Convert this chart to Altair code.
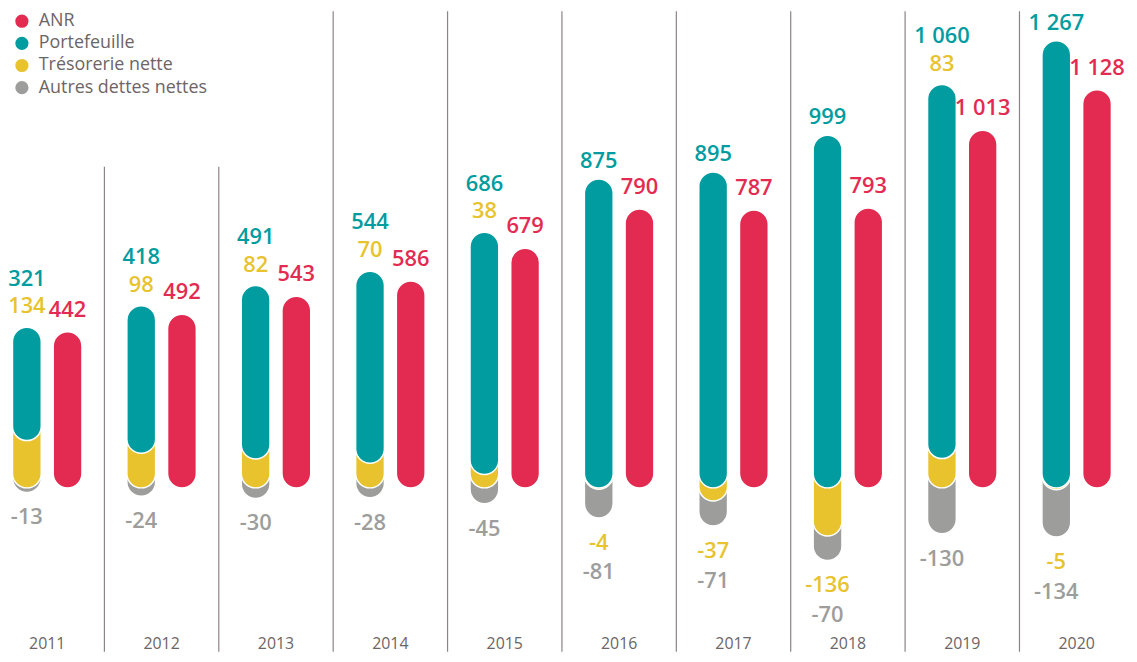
import altair as alt
import pandas as pd

# ---- data ----
years = [2011, 2012, 2013, 2014, 2015, 2016, 2017, 2018, 2019, 2020]
anr = [442, 492, 543, 586, 679, 790, 787, 793, 1013, 1128]
portefeuille = [321, 418, 491, 544, 686, 875, 895, 999, 1060, 1267]
tresorerie = [134, 98, 82, 70, 38, -4, -37, -136, 83, -5]
autres = [-13, -24, -30, -28, -45, -81, -71, -70, -130, -134]

series_names = ["ANR", "Portefeuille", "Trésorerie nette", "Autres dettes nettes"]
series_colors = ["#e32b51", "#009ca0", "#e8c32e", "#9d9d9c"]

sep_years = years[:-1]
sep_tops = [910, 910, 1350, 1350, 1350, 1350, 1350, 1350, 1350]

FONT = "Open Sans"
TXT = "#6d6466"
RED, TEAL, YEL, GRAY = series_colors


def fmt(v):
    return f"{v:,}".replace(",", " ")


# ---- tables built from the arrays ----
rows = []
lab_rows = []
for i, yr in enumerate(years):
    t = tresorerie[i]
    pos_t, neg_t = max(t, 0), min(t, 0)
    rows.append(dict(year=yr, series="Autres dettes nettes", lo=neg_t + autres[i], hi=neg_t))
    rows.append(dict(year=yr, series="Trésorerie nette", lo=neg_t, hi=pos_t))
    rows.append(dict(year=yr, series="Portefeuille", lo=pos_t, hi=pos_t + portefeuille[i]))
    rows.append(dict(year=yr, series="ANR", lo=0, hi=anr[i]))
    lab_rows.append(dict(
        year=yr, yl=str(yr), anr=anr[i], treso=t,
        top=pos_t + portefeuille[i], bottom=neg_t + autres[i],
        port_l=fmt(portefeuille[i]), treso_l=fmt(t), autres_l=fmt(autres[i]), anr_l=fmt(anr[i]),
    ))
bars = pd.DataFrame(rows)
labs = pd.DataFrame(lab_rows)
seps = pd.DataFrame({"year": sep_years, "top": sep_tops})

# ---- scales ----
W, H = 1129, 646
PX_PER_YEAR = 115.2
X_MIN = 2011 - 39.5 / PX_PER_YEAR
X_MAX = 2011 + (W - 39.5) / PX_PER_YEAR
Y_MAX = 1353
Y_MIN = -(H - 481) / 0.3555
xscale = alt.Scale(domain=[X_MIN, X_MAX], nice=False, zero=False, padding=0)
yscale = alt.Scale(domain=[Y_MIN, Y_MAX], nice=False, zero=False, padding=0)
cscale = alt.Scale(domain=series_names, range=series_colors)
legend = alt.Legend(
    title=None, orient="none", legendX=5, legendY=2, symbolType="circle",
    symbolSize=177, symbolStrokeWidth=0, labelFontSize=18, labelColor=TXT,
    labelFont=FONT, rowPadding=4.3, labelOffset=8, padding=0, labelLimit=400,
)

X = alt.X("year:Q", scale=xscale, axis=None)
BAR_W = 29
OFF = 20.5


def seg(name, xoff, extend):
    kw = dict(width=BAR_W, cornerRadius=14.5, xOffset=xoff, stroke="white", strokeWidth=1.5)
    if extend:
        kw["y2Offset"] = -29
    return (
        alt.Chart(bars)
        .transform_filter(alt.datum.series == name)
        .mark_bar(**kw)
        .encode(
            x=X,
            y=alt.Y("lo:Q", scale=yscale, axis=None),
            y2="hi:Q",
            color=alt.Color("series:N", scale=cscale, legend=legend),
        )
    )


def txt(text_field, ypos, color, dy, xoff, flt=None):
    ch = alt.Chart(labs)
    if flt:
        ch = ch.transform_filter(flt)
    return ch.mark_text(
        color=color, dy=dy, xOffset=xoff, font=FONT, fontSize=22, fontWeight=600
    ).encode(
        x=X,
        y=alt.Y(f"{ypos}:Q", scale=yscale, axis=None),
        text=f"{text_field}:N",
    )


rules = (
    alt.Chart(seps)
    .transform_calculate(sx="datum.year + 0.5")
    .mark_rule(color="#8c8385", strokeWidth=1.2)
    .encode(
        x=alt.X("sx:Q", scale=xscale, axis=None),
        y=alt.Y("top:Q", scale=yscale, axis=None),
        y2=alt.Y2Datum(Y_MIN),
    )
)

year_labels = alt.Chart(labs).mark_text(
    color=TXT, font=FONT, fontSize=16
).encode(
    x=X,
    y=alt.YDatum(-441, scale=yscale, axis=None),
    text="yl:N",
)

chart = alt.layer(
    rules,
    seg("Autres dettes nettes", -OFF, True),
    seg("Trésorerie nette", -OFF, True),
    seg("Portefeuille", -OFF, False),
    seg("ANR", OFF, False),
    txt("port_l", "top", TEAL, -49, -OFF, "datum.treso > 0"),
    txt("port_l", "top", TEAL, -18, -OFF, "datum.treso <= 0"),
    txt("treso_l", "top", YEL, -21, -OFF, "datum.treso > 0"),
    txt("treso_l", "bottom", YEL, 25, -OFF, "datum.treso < 0"),
    txt("autres_l", "bottom", GRAY, 25, -OFF, "datum.treso > 0"),
    txt("autres_l", "bottom", GRAY, 55, -OFF, "datum.treso < 0"),
    txt("anr_l", "anr", RED, -22, OFF),
    year_labels,
).properties(
    width=W, height=H, padding=0,
    autosize=alt.AutoSizeParams(type="none"),
).configure_view(strokeWidth=0)

chart.save("out.html", embed_options={"renderer": "svg", "actions": False})
